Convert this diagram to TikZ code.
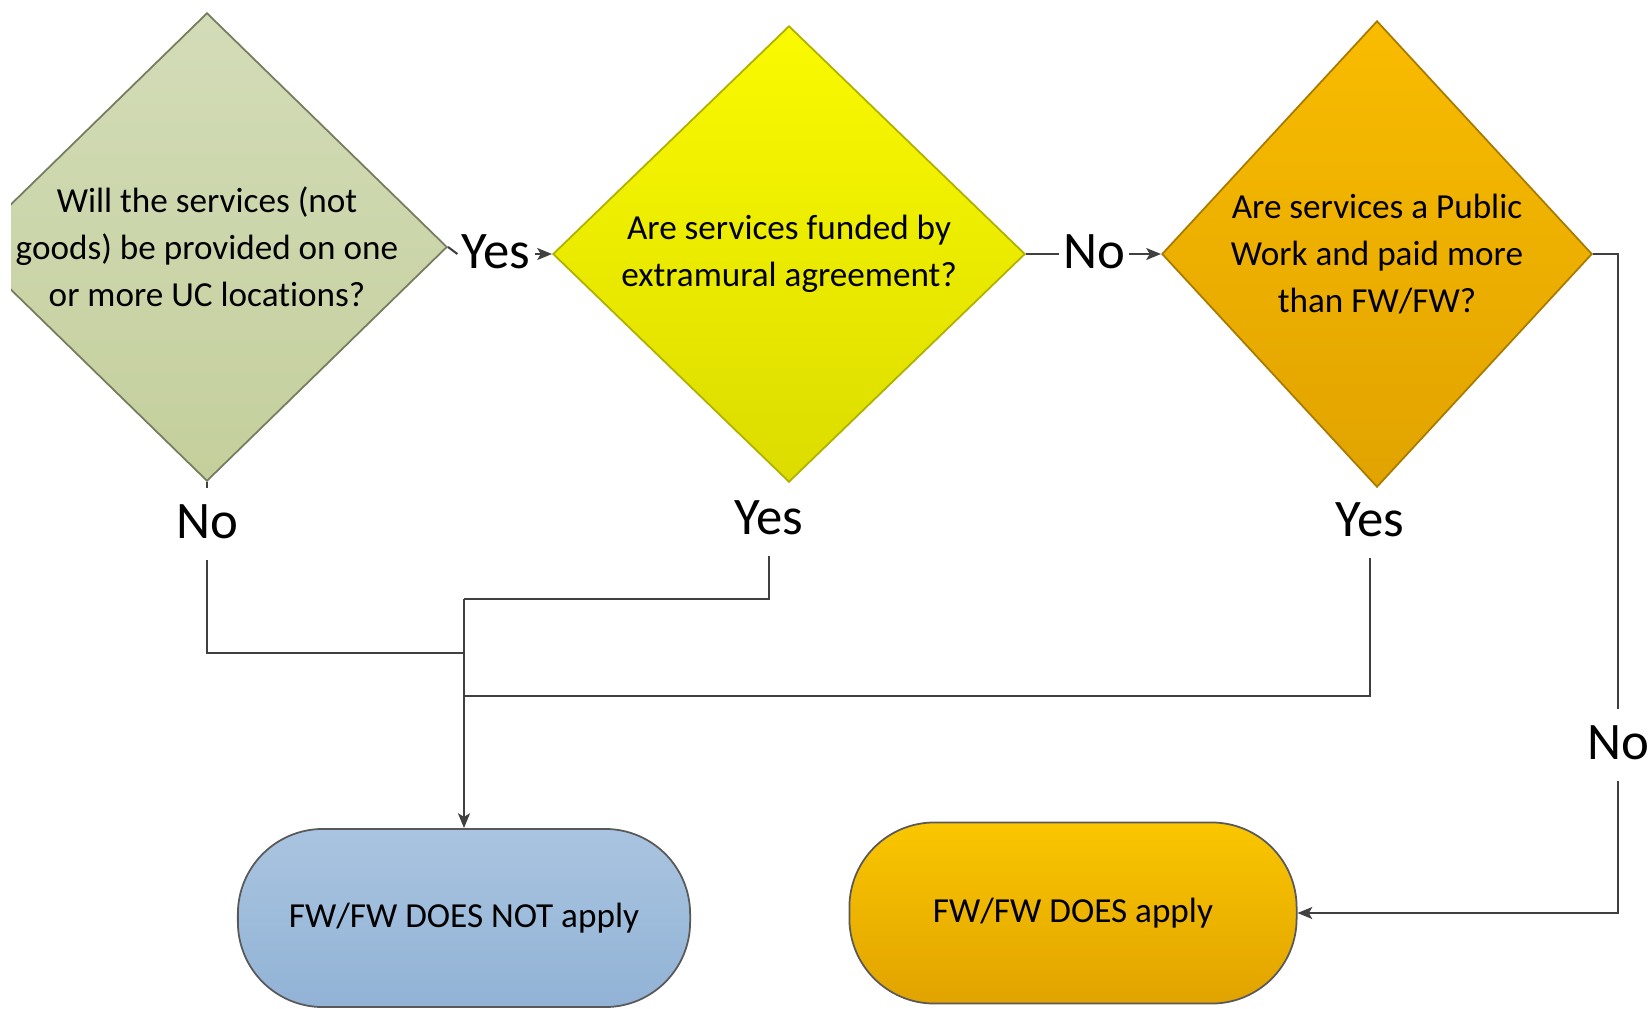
\documentclass[tikz,border=0pt]{standalone}
\usepackage{fontspec}
\setmainfont[Ligatures=NoCommon]{Carlito}
\usetikzlibrary{shapes.geometric,arrows.meta}
\definecolor{greentop}{HTML}{D3DCB8}
\definecolor{greenbot}{HTML}{C4CF9C}
\definecolor{yellowtop}{HTML}{FAFA00}
\definecolor{yellowbot}{HTML}{DCDC00}
\definecolor{orangetop}{HTML}{F9BC00}
\definecolor{orangebot}{HTML}{E1A300}
\definecolor{bluetop}{HTML}{A9C4E0}
\definecolor{bluebot}{HTML}{92B3D6}
\definecolor{linegray}{HTML}{404040}

\begin{document}
\begin{tikzpicture}[x=0.01cm,y=-0.01cm,
        question/.style={diamond,inner sep=0pt,line width=0.5pt},
        qtext/.style={align=center,font=\fontsize{10}{13.4}\selectfont},
        answer/.style={font=\fontsize{15}{18}\selectfont,inner xsep=1pt,inner ysep=3pt,text height=11pt,text depth=3pt},
        result/.style={rectangle,rounded corners=0.85cm,draw=black!65,line width=0.5pt,font=\fontsize{10}{12}\selectfont},
        link/.style={draw=linegray,line width=0.6pt},
        arrow/.style={link,-{Stealth[length=4.2pt,width=3.4pt,inset=1pt]}}]
        \useasboundingbox (0,0) rectangle (1648,1008);
        \begin{scope}
        \clip (11,0) rectangle (1648,1008);
        \node[question,draw=greenbot!60!black,top color=greentop,bottom color=greenbot,minimum width=4.8cm,minimum height=4.68cm] (will) at (207,247) {};
        \end{scope}
        \node[question,draw=yellowbot!80!black,top color=yellowtop,bottom color=yellowbot,minimum width=4.72cm,minimum height=4.56cm] (funded) at (789,254) {};
        \node[question,draw=orangebot!75!black,top color=orangetop,bottom color=orangebot,minimum width=4.3cm,minimum height=4.66cm] (pw) at (1377,254) {};
        \node[qtext] (willtxt) at (will.center) {Will the services (not\\goods) be provided on one\\or more UC locations?};
        \node[qtext] (fundedtxt) at (funded.center) {Are services funded by\\extramural agreement?};
        \node[qtext] (pwtxt) at (pw.center) {Are services a Public\\Work and paid more\\than FW/FW?};
        \node[answer] (yes1) at (496,254) {Yes};
        \node[answer] (no1) at (1094,254) {No};
        \node[answer] (no2) at (207,524) {No};
        \node[answer] (yes2) at (769,520) {Yes};
        \node[answer] (yes3) at (1370,522) {Yes};
        \node[answer] (no3) at (1618,745) {No};
        \node[result,top color=bluetop,bottom color=bluebot,minimum width=4.52cm,minimum height=1.78cm] (notapply) at (464,918) {FW/FW DOES NOT apply};
        \node[result,top color=orangetop!85!yellow,bottom color=orangebot,minimum width=4.47cm,minimum height=1.81cm] (doesapply) at (1073,913) {FW/FW DOES apply};
        \coordinate (m1) at (464,599);
        \coordinate (m2) at (464,653);
        \coordinate (m3) at (464,696);
        \draw[link] (will.east) -- (yes1.west);
        \draw[arrow] (yes1.east) -- (funded.west);
        \draw[link] (funded.east) -- (no1.west);
        \draw[arrow] (no1.east) -- (pw.west);
        \draw[link] (will.south) -- (no2.north);
        \draw[link] (no2.south) |- (m2);
        \draw[link] (yes2.south) |- (m1);
        \draw[link] (yes3.south) |- (m3);
        \draw[arrow] (m1) -- (notapply.north);
        \draw[link] (pw.east) -| (no3.north);
        \draw[arrow] (no3.south) |- (doesapply.east);
      \end{tikzpicture}
\end{document}
